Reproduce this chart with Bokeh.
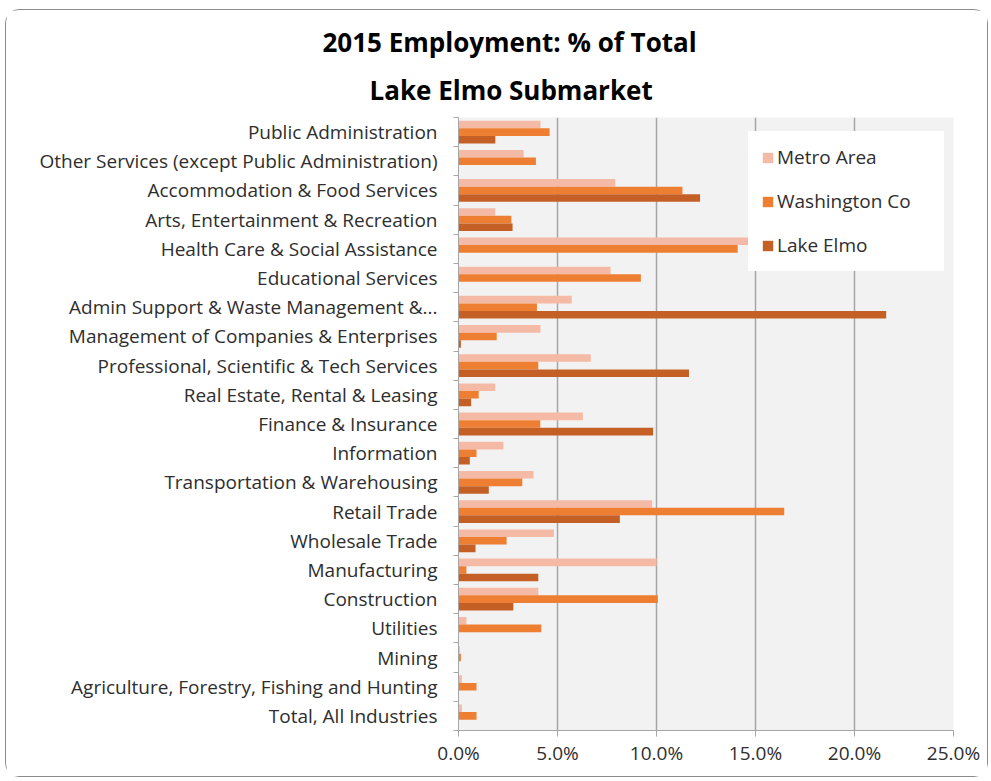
import numpy as np
from bokeh.plotting import figure
from bokeh.models import (ColumnDataSource, Legend, LegendItem, FixedTicker,
                          PrintfTickFormatter, CustomJSTickFormatter, Title)
from bokeh.transform import dodge
from bokeh.embed import file_html
from bokeh.resources import INLINE

# ---- data (top to bottom as displayed), values in percent ----
industries = [
    "Public Administration",
    "Other Services (except Public Administration)",
    "Accommodation & Food Services",
    "Arts, Entertainment & Recreation",
    "Health Care & Social Assistance",
    "Educational Services",
    "Admin Support & Waste Management &...",
    "Management of Companies & Enterprises",
    "Professional, Scientific & Tech Services",
    "Real Estate, Rental & Leasing",
    "Finance & Insurance",
    "Information",
    "Transportation & Warehousing",
    "Retail Trade",
    "Wholesale Trade",
    "Manufacturing",
    "Construction",
    "Utilities",
    "Mining",
    "Agriculture, Forestry, Fishing and Hunting",
    "Total, All Industries",
]
metro_area = [4.14, 3.29, 7.92, 1.86, 15.2, 7.68, 5.72, 4.14, 6.68, 1.86, 6.28,
              2.27, 3.79, 9.78, 4.82, 10.0, 4.03, 0.40, 0.07, 0.17, 0.17]
washington_co = [4.60, 3.91, 11.31, 2.67, 14.1, 9.21, 3.96, 1.93, 4.03, 1.02, 4.13,
                 0.91, 3.22, 16.45, 2.43, 0.40, 10.07, 4.18, 0.12, 0.91, 0.91]
lake_elmo = [1.86, 0.0, 12.2, 2.73, 0.0, 0.0, 21.6, 0.12, 11.64, 0.64, 9.83,
             0.57, 1.53, 8.15, 0.86, 4.03, 2.77, 0.0, 0.0, 0.0, 0.0]
x_ticks = [0, 5, 10, 15, 20, 25]
series_names = ["Metro Area", "Washington Co", "Lake Elmo"]
series_colors = ["#F5BAA5", "#EE7E32", "#C45F26"]
title_lines = ["2015 Employment:  % of Total", "Lake Elmo Submarket"]

n = len(industries)
names_bottom_up = industries[::-1]
centers = [n - 1 - i + 0.5 for i in range(n)]

src = ColumnDataSource(dict(y=centers, metro=metro_area, wash=washington_co, lake=lake_elmo))

FONT = "Open Sans"
TXT = "#2E2E2E"
FS = "19px"

p = figure(width=983, height=768, output_backend="svg", toolbar_location=None,
           x_range=(0, 25), y_range=(0, n),
           min_border_left=452, min_border_right=36, min_border_top=107, min_border_bottom=48,
           background_fill_color="#F2F2F2", border_fill_color="white",
           outline_line_color=None,
           styles={"border": "1px solid #8C8C8C", "border-radius": "14px",
                   "margin-left": "5px", "margin-top": "9px"})

bh = 0.26
r_metro = p.hbar(y=dodge("y", bh, range=p.y_range), right="metro", left=0, height=bh,
                 source=src, fill_color=series_colors[0], line_color=None)
r_wash = p.hbar(y=dodge("y", 0, range=p.y_range), right="wash", left=0, height=bh,
                source=src, fill_color=series_colors[1], line_color=None)
r_lake = p.hbar(y=dodge("y", -bh, range=p.y_range), right="lake", left=0, height=bh,
                source=src, fill_color=series_colors[2], line_color=None)

# x axis
p.xaxis.ticker = FixedTicker(ticks=x_ticks)
p.xaxis.formatter = PrintfTickFormatter(format="%.1f%%")
p.xaxis.major_label_text_font = FONT
p.xaxis.major_label_text_font_size = FS
p.xaxis.major_label_text_color = TXT
p.xaxis.axis_line_color = "#A6A6A6"
p.xaxis.major_tick_line_color = "#A6A6A6"
p.xaxis.major_tick_out = 6
p.xaxis.major_tick_in = 0
p.xaxis.minor_tick_line_color = None
p.xaxis.major_label_standoff = 3

# y axis: labels at centers, small ticks at category boundaries
p.yaxis.ticker = FixedTicker(ticks=centers, minor_ticks=list(range(n + 1)))
p.yaxis.formatter = CustomJSTickFormatter(args=dict(names=names_bottom_up),
                                          code="return names[Math.floor(tick)];")
p.yaxis.major_label_text_font = FONT
p.yaxis.major_label_text_font_size = FS
p.yaxis.major_label_text_color = TXT
p.yaxis.axis_line_color = "#A6A6A6"
p.yaxis.major_tick_line_color = None
p.yaxis.major_tick_out = 0
p.yaxis.major_tick_in = 0
p.yaxis.minor_tick_line_color = "#A6A6A6"
p.yaxis.minor_tick_out = 5
p.yaxis.minor_tick_in = 0
p.yaxis.major_label_standoff = 16

p.ygrid.grid_line_color = None
p.xgrid.grid_line_color = "#A6A6A6"
p.xgrid.grid_line_width = 1.5
p.xgrid.ticker = FixedTicker(ticks=x_ticks)

# two-line title (closest to the plot added first)
p.add_layout(Title(text=title_lines[1], align="left", offset=-89, standoff=20,
                   text_font=FONT, text_font_style="bold", text_font_size="26px",
                   text_color="#000000"), "above")
p.add_layout(Title(text=title_lines[0], align="left", offset=-136, standoff=0,
                   text_font=FONT, text_font_style="bold", text_font_size="26px",
                   text_color="#000000"), "above")

legend = Legend(items=[LegendItem(label=series_names[0], renderers=[r_metro]),
                       LegendItem(label=series_names[1], renderers=[r_wash]),
                       LegendItem(label=series_names[2], renderers=[r_lake])],
                location=(290, 459), orientation="vertical",
                background_fill_color="white", background_fill_alpha=1.0,
                border_line_color="white", border_line_alpha=1.0, padding=12, spacing=18,
                glyph_width=13, glyph_height=13, label_standoff=3,
                label_width=154, label_height=20,
                label_text_font=FONT, label_text_font_size=FS, label_text_color=TXT)
p.add_layout(legend, "center")

open("out.html", "w").write(file_html(p, INLINE))
